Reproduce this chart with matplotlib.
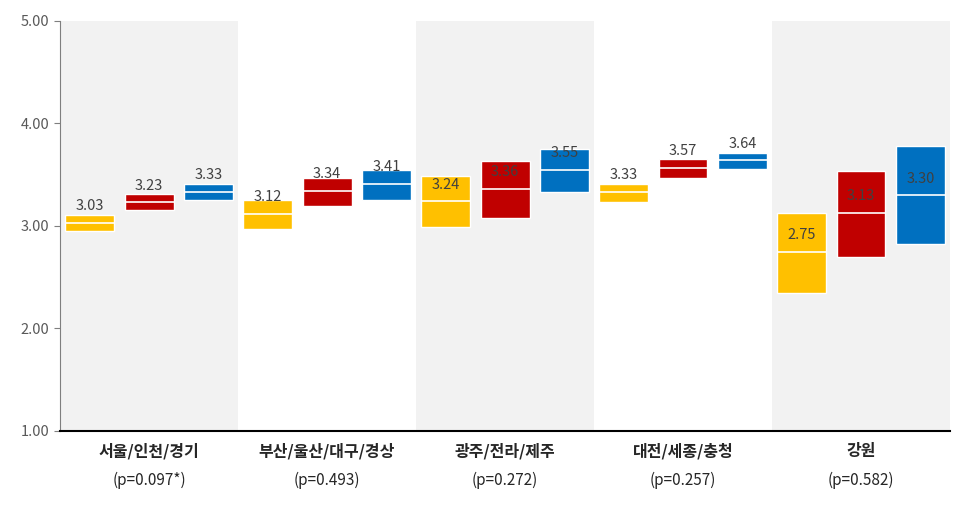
import matplotlib.pyplot as plt

plt.rcParams['font.family'] = ['Noto Sans CJK KR', 'DejaVu Sans']

regions = ["서울/인천/경기", "부산/울산/대구/경상", "광주/전라/제주", "대전/세종/충청", "강원"]
p_values = ["(p=0.097*)", "(p=0.493)", "(p=0.272)", "(p=0.257)", "(p=0.582)"]

# mean, lower and upper bound for each of the three series
mean_a = [3.03, 3.12, 3.24, 3.33, 2.75]
low_a = [2.95, 2.97, 2.99, 3.23, 2.35]
high_a = [3.11, 3.25, 3.49, 3.41, 3.13]

mean_b = [3.23, 3.34, 3.36, 3.57, 3.13]
low_b = [3.16, 3.19, 3.08, 3.47, 2.70]
high_b = [3.31, 3.47, 3.63, 3.65, 3.54]

mean_c = [3.33, 3.41, 3.55, 3.64, 3.30]
low_c = [3.25, 3.25, 3.33, 3.56, 2.82]
high_c = [3.41, 3.55, 3.75, 3.71, 3.78]

series = [
    (mean_a, low_a, high_a, "#FFC000"),
    (mean_b, low_b, high_b, "#C00000"),
    (mean_c, low_c, high_c, "#0070C0"),
]

fig = plt.figure(figsize=(9.7, 5.07), dpi=100)
ax = fig.add_axes([0.0619, 0.150, 0.9175, 0.8086])

n = len(regions)
for i in range(n):
    if i % 2 == 0:
        ax.axvspan(i - 0.5, i + 0.5, color="#F2F2F2", zorder=0, lw=0)

offsets = [-1 / 3, 0, 1 / 3]
width = 0.275
for (means, lows, highs, color), off in zip(series, offsets):
    for i in range(n):
        x = i + off
        ax.bar(x, highs[i] - lows[i], width, bottom=lows[i], color=color,
               edgecolor="white", linewidth=1, zorder=2)
        ax.hlines(means[i], x - width / 2, x + width / 2, color="white",
                  linewidth=1.2, zorder=3)
        ax.annotate(f"{means[i]:.2f}", (x, means[i]), xytext=(0, 12),
                    textcoords="offset points", ha="center", va="center",
                    fontsize=10.5, color="#404040", zorder=4)

ax.set_xlim(-0.5, n - 0.5)
ax.set_ylim(1, 5)
ax.set_yticks([1, 2, 3, 4, 5])
ax.set_yticklabels([f"{v:.2f}" for v in [1, 2, 3, 4, 5]], fontsize=10.5, color="#595959")
ax.set_xticks(range(n))
ax.set_xticklabels([])
ax.tick_params(axis="x", length=0)
ax.tick_params(axis="y", length=4, color="#7F7F7F", direction="out")

for i in range(n):
    ax.text(i, -0.05, regions[i], transform=ax.get_xaxis_transform(),
            ha="center", va="center", fontsize=11.5, fontweight="bold", color="#262626")
    ax.text(i, -0.12, p_values[i], transform=ax.get_xaxis_transform(),
            ha="center", va="center", fontsize=11, color="#262626")

ax.spines["top"].set_visible(False)
ax.spines["right"].set_visible(False)
ax.spines["left"].set_color("#7F7F7F")
ax.spines["bottom"].set_color("black")
ax.spines["bottom"].set_linewidth(1.5)

fig.savefig("out.png", dpi=100)
